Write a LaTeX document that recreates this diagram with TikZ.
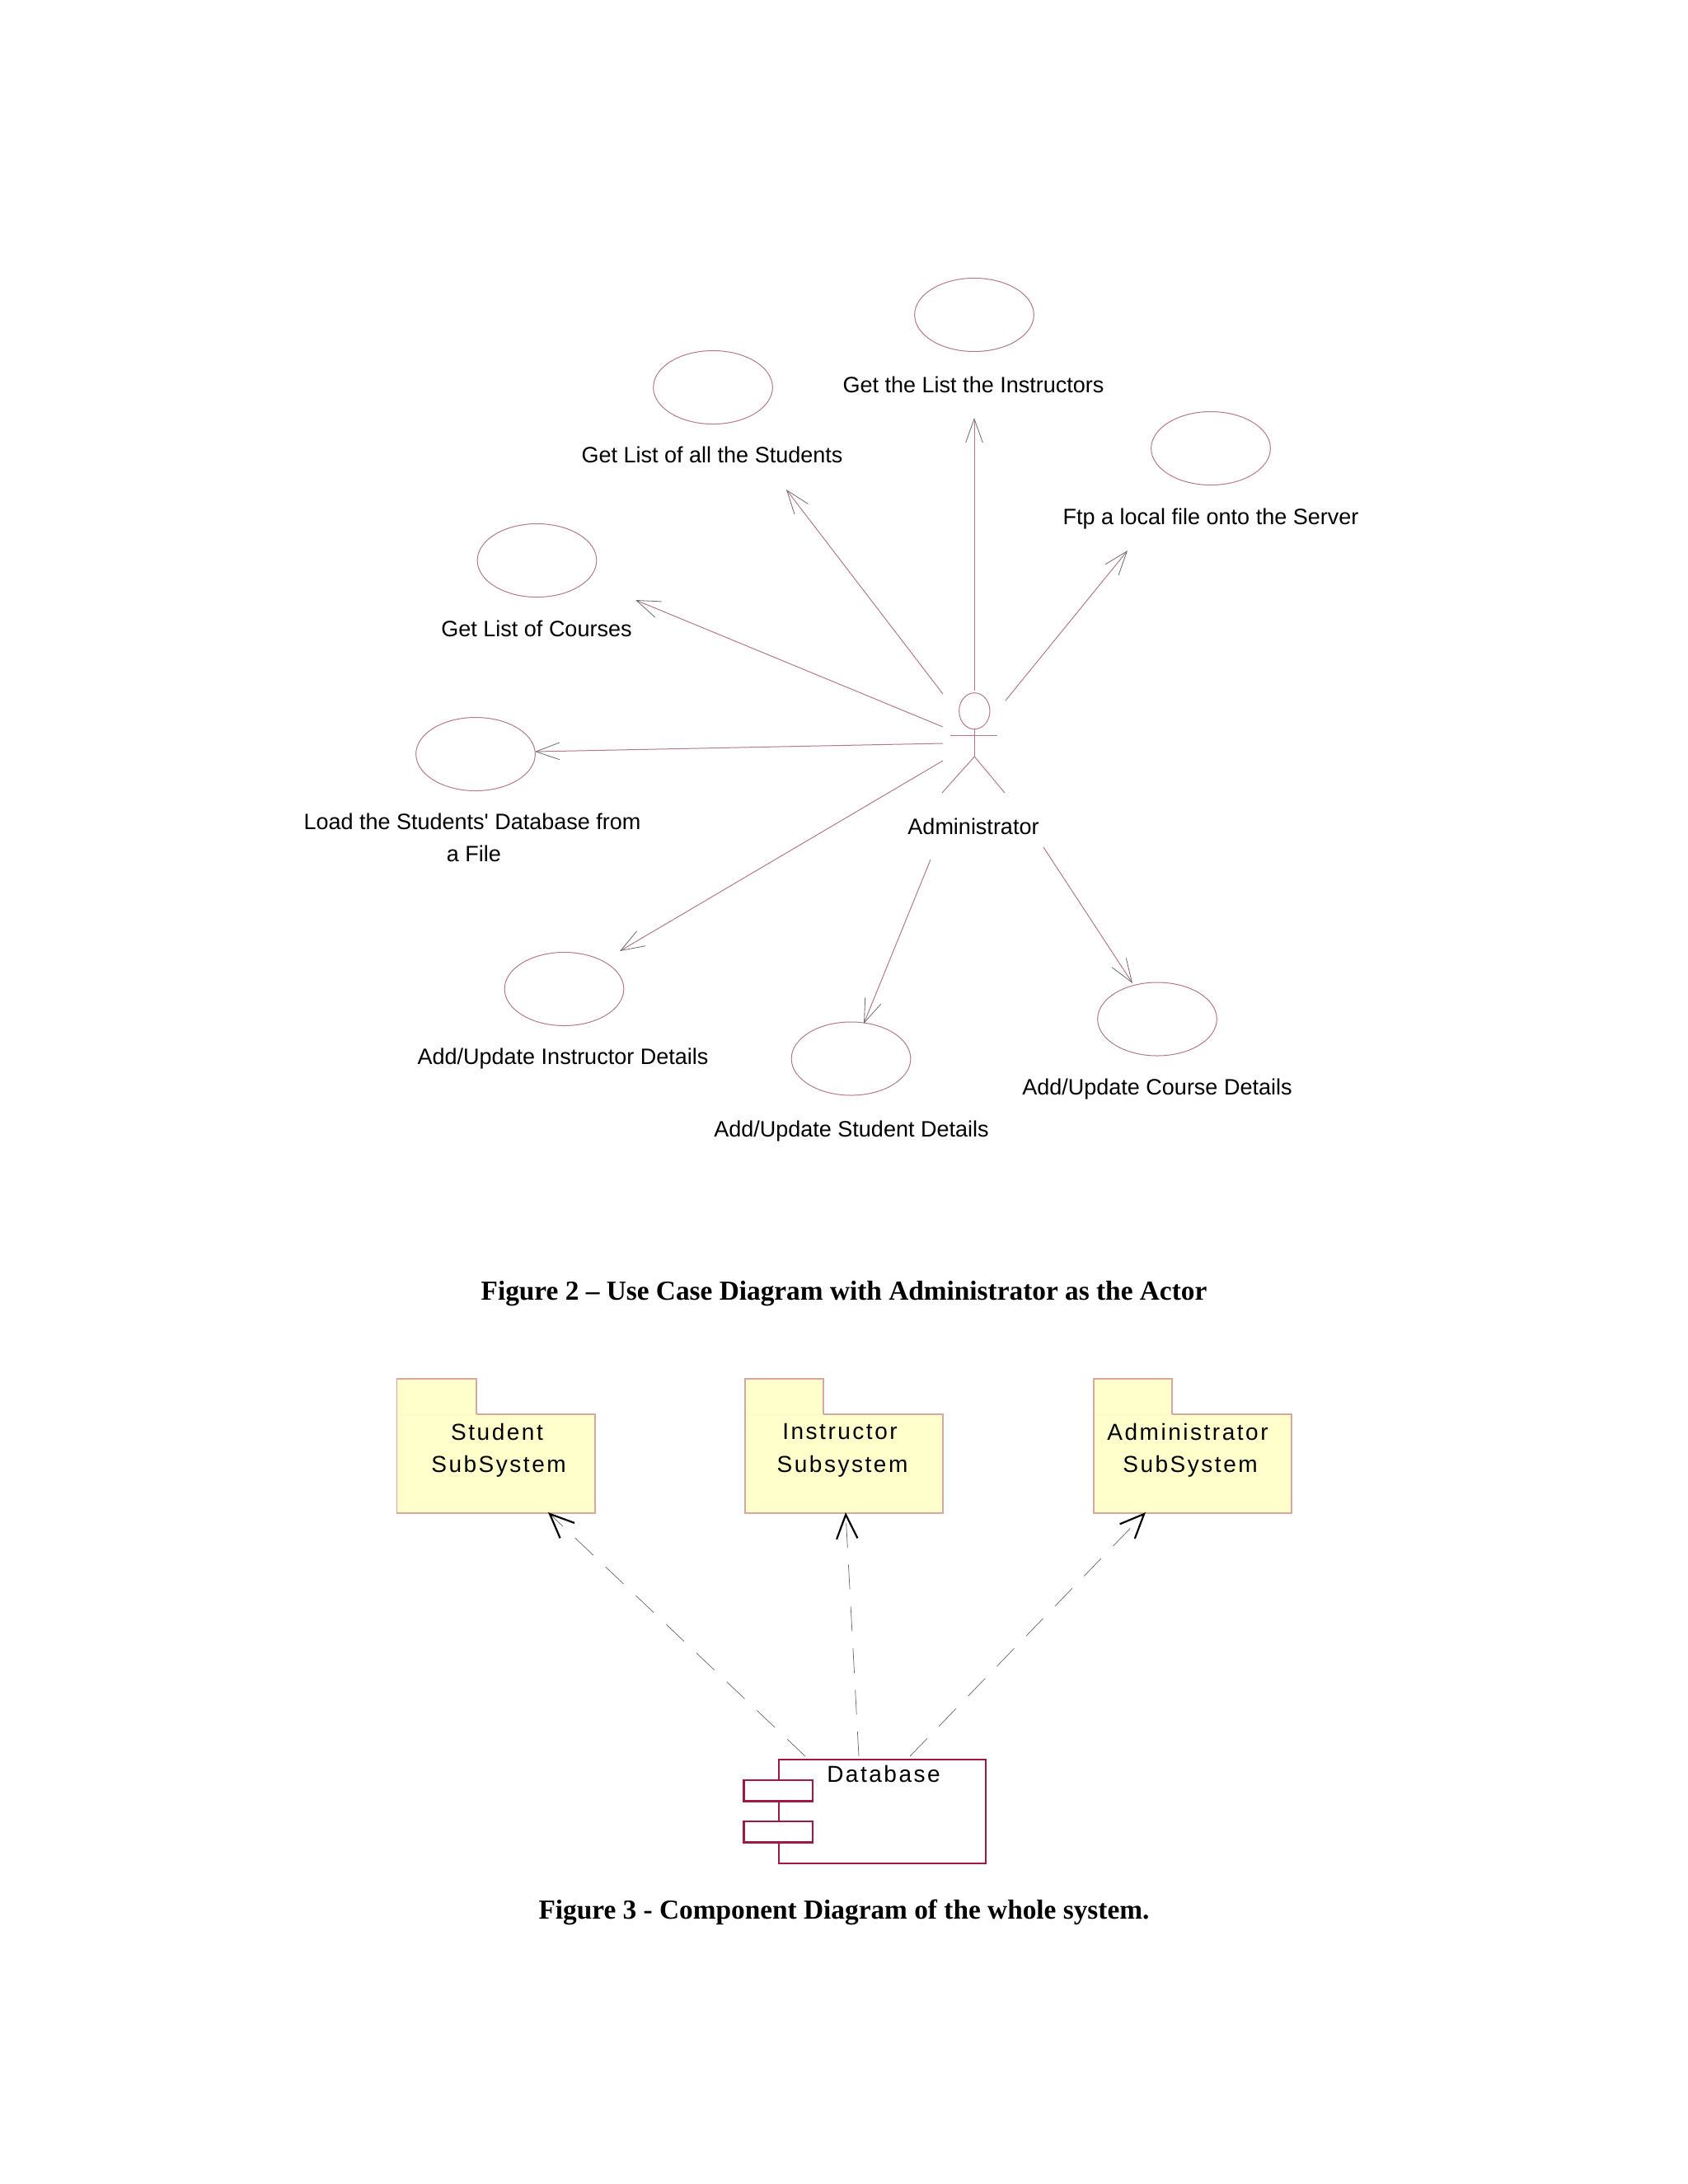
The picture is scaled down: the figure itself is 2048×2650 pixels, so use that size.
\documentclass[tikz,border=0pt]{standalone}
\usepackage{fontspec}
\setmainfont{Liberation Sans}
\newfontfamily\ucfont{Liberation Sans}
\newfontfamily\pkgfont[LetterSpace=9]{Liberation Sans}
\newfontfamily\capfont{Liberation Serif}
\usetikzlibrary{arrows.meta,shapes.geometric}
\definecolor{usecaseline}{HTML}{B5788A}
\definecolor{tipline}{HTML}{6E6E6E}
\definecolor{pkgline}{HTML}{D8A8A0}
\definecolor{pkgfill}{HTML}{FFFFCC}
\definecolor{pkgseam}{HTML}{FAF6C6}
\definecolor{compline}{HTML}{A01848}
\definecolor{depline}{HTML}{6A6A6A}
\tikzset{
  usecase/.style={draw=usecaseline, ellipse, line width=0.3pt, inner sep=0pt, minimum width=43.4pt, minimum height=26.7pt},
  ucname/.style={inner sep=0pt, align=center, font=\fontsize{8.1}{11.7}\ucfont},
  pkgname/.style={inner sep=0pt, font=\fontsize{8.4}{11}\pkgfont},
  capname/.style={inner sep=0pt, font=\fontsize{10}{12}\capfont\bfseries},
  assoc/.style={draw=usecaseline, line width=0.3pt, -{Straight Barb[length=8.6pt,width=6.2pt,line width=0.25pt,tipline]}},
  depend/.style={draw=depline, line width=0.22pt, dash pattern=on 9pt off 6.2pt, -{Straight Barb[length=8.8pt,width=7.6pt,line width=0.65pt,black]}},
  pkgbox/.style={draw=pkgline, fill=pkgfill, line width=0.35pt, inner sep=0pt},
  compbox/.style={draw=compline, fill=white, line width=0.7pt, inner sep=0pt}
}
\begin{document}
\begin{tikzpicture}[x=0.3pt,y=-0.3pt]
   \useasboundingbox (0,0) rectangle (2048,2650);
   \begin{scope}
    \node[usecase] (instructors) at (1182, 382) {};
    \node[usecase] (students)    at ( 865, 470) {};
    \node[usecase] (server)      at (1469, 544) {};
    \node[usecase] (courses)     at (651.5,680) {};
    \node[usecase] (load)        at ( 577, 915) {};
    \node[usecase] (addinstr)    at (684.5,1200) {};
    \node[usecase] (addstud)     at (1032.5,1284.5) {};
    \node[usecase] (addcourse)   at (1404,1236.5) {};
    \node[ucname] (instructorsname) at (1181, 467) {Get the List the Instructors};
    \node[ucname] (studentsname)    at ( 864, 552) {Get List of all the Students};
    \node[ucname] (servername)      at (1469, 630) {Ftp a local file onto the Server};
    \node[ucname] (coursesname)     at ( 651, 763) {Get List of Courses};
    \node[ucname] (loadname)        at ( 573,1016.5) {Load the Students' Database from\\\hspace{1.2pt}a File};
    \node[ucname] (addinstrname)    at ( 683,1284) {Add/Update Instructor Details};
    \node[ucname] (addstudname)     at (1033,1372) {Add/Update Student Details};
    \node[ucname] (addcoursename)   at (1404,1321) {Add/Update Course Details};
    \node[ucname] (adminname)       at (1181,1003) {Administrator};
    \node[draw=usecaseline, ellipse, line width=0.3pt, inner sep=0pt, minimum width=11.2pt, minimum height=13.2pt] (head) at (1182.3,862.7) {};
    \coordinate (hip)  at (1182.3,918);
    \coordinate (armL) at (1153,892);
    \coordinate (armR) at (1210,892);
    \coordinate (footL) at (1143,962);
    \coordinate (footR) at (1219,962);
    \draw[draw=usecaseline, line width=0.3pt] (head.south) -- (hip);
    \draw[draw=usecaseline, line width=0.3pt] (armL) -- (armR);
    \draw[draw=usecaseline, line width=0.3pt] (footL) -- (hip) -- (footR);
    \coordinate (a1) at (1182, 838);
    \coordinate (b1) at (1182, 507);
    \coordinate (a2) at (1144, 842);
    \coordinate (b2) at ( 954, 594);
    \coordinate (a3) at (1220, 850);
    \coordinate (b3) at (1368, 668);
    \coordinate (a4) at (1144, 882);
    \coordinate (b4) at ( 771, 728);
    \coordinate (a5) at (1144, 902);
    \coordinate (b5) at ( 649, 912);
    \coordinate (a6) at (1144, 923);
    \coordinate (b6) at ( 752,1154);
    \coordinate (a7) at (1129,1043);
    \coordinate (b7) at (1048,1242);
    \coordinate (a8) at (1266,1028);
    \coordinate (b8) at (1374,1193);
    \draw[assoc] (a1) -- (b1);
    \draw[assoc] (a2) -- (b2);
    \draw[assoc] (a3) -- (b3);
    \draw[assoc] (a4) -- (b4);
    \draw[assoc] (a5) -- (b5);
    \draw[assoc] (a6) -- (b6);
    \draw[assoc] (a7) -- (b7);
    \draw[assoc] (a8) -- (b8);
    \node[capname] (fig2) at (1024,1570) {Figure 2 – Use Case Diagram with Administrator as the Actor};
   \end{scope}
   \begin{scope}
    \draw[pkgbox] (481.5,1716) |- (578,1673) |- (722,1716) |- (481.5,1836) -- cycle;
    \draw[pkgbox] (904,1716) |- (999,1673) |- (1144,1716) |- (904,1836) -- cycle;
    \draw[pkgbox] (1327,1716) |- (1422,1673) |- (1567,1716) |- (1327,1836) -- cycle;
    \draw[pkgseam, line width=0.3pt] (482,1716) -- (577.5,1716);
    \draw[pkgseam, line width=0.3pt] (904.5,1716) -- (998.5,1716);
    \draw[pkgseam, line width=0.3pt] (1327.5,1716) -- (1421.5,1716);
    \node[pkgname] (stud1)  at ( 603,1737) {Student};
    \node[pkgname] (stud2)  at ( 605,1779.5) {SubSystem};
    \node[pkgname] (inst1)  at (1019,1737) {Instructor};
    \node[pkgname] (inst2)  at (1022,1779.5) {Subsystem};
    \node[pkgname] (admin1) at (1441,1737) {Administrator};
    \node[pkgname] (admin2) at (1444,1779.5) {SubSystem};
    \coordinate (studtip)  at ( 665,1835);
    \coordinate (insttip)  at (1026,1835);
    \coordinate (admintip) at (1390,1835);
    \draw[compbox] (945,2135) rectangle (1195.7,2260.7);
    \node[compbox, minimum width=25pt, minimum height=7.7pt] (port1) at (944,2172.8) {};
    \node[compbox, minimum width=25pt, minimum height=7.7pt] (port2) at (944,2222.6) {};
    \node[pkgname] (dbname) at (1072,2152.7) {Database};
    \coordinate (dbstud)  at ( 977,2131);
    \coordinate (dbinst)  at (1042,2131);
    \coordinate (dbadmin) at (1104,2131);
    \draw[depend] (dbstud)  -- (studtip);
    \draw[depend] (dbinst)  -- (insttip);
    \draw[depend] (dbadmin) -- (admintip);
    \node[capname] (fig3) at (1024,2320) {Figure 3 - Component Diagram of the whole system.};
   \end{scope}
\end{tikzpicture}
\end{document}
